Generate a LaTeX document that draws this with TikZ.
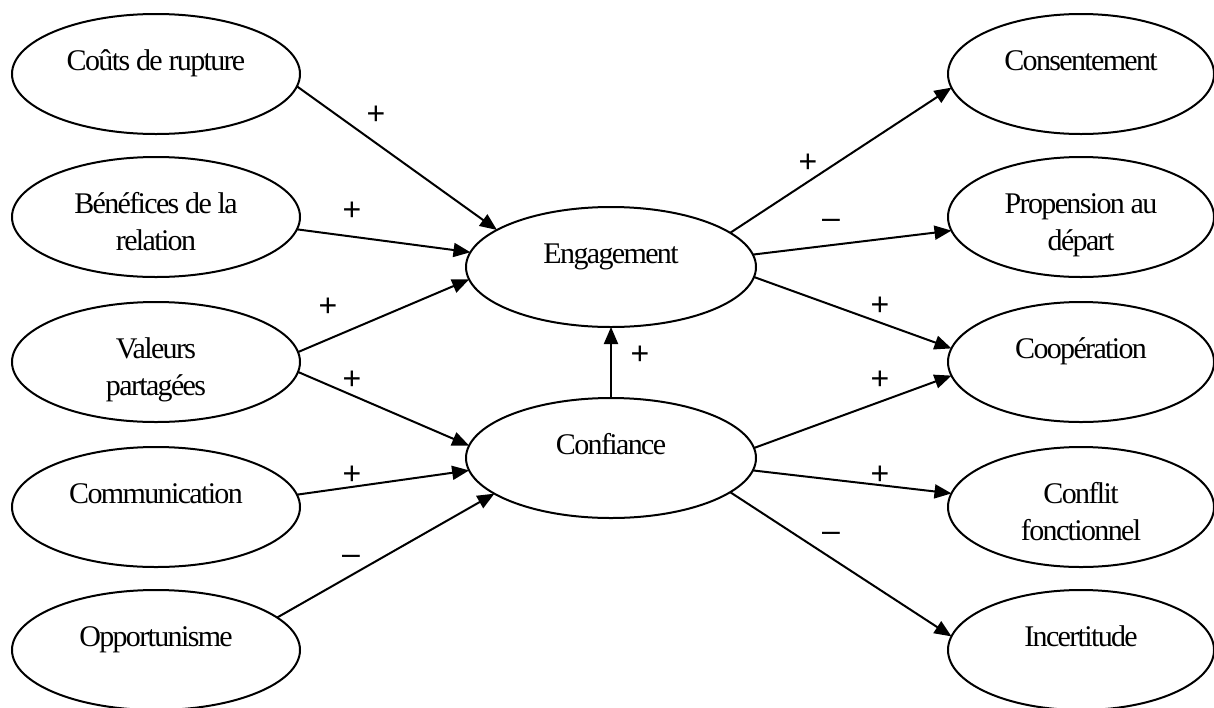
\documentclass[tikz,border=0pt]{standalone}
\usepackage{fontspec}
\setmainfont{Liberation Serif}[LetterSpace=-5.5]
\newfontfamily\signfont{Liberation Sans}
\usetikzlibrary{arrows.meta,shapes.geometric}
\newcommand{\txt}[1]{\raisebox{2pt}[0pt][0pt]{\begin{tabular}[t]{@{}c@{}}#1\end{tabular}}}
\tikzset{
  ell/.style={ellipse, draw, line width=1pt, inner sep=0pt, outer sep=0pt,
    font=\fontsize{15pt}{18.5pt}\selectfont},
  lft/.style={ell, minimum width=144pt, minimum height=60pt},
  mid/.style={ell, minimum width=145pt, minimum height=60pt},
  rgt/.style={ell, minimum width=133pt, minimum height=60pt},
  conn/.style={line width=1pt, -{Triangle[length=8.5pt,width=7pt]}},
  sgn/.style={font=\signfont\fontsize{16pt}{19pt}\selectfont, inner sep=0pt,
    text height=0.7em, text depth=0pt},
}
\begin{document}
\begin{tikzpicture}[x=0.5pt,y=-0.5pt]
\useasboundingbox (0,0) rectangle (1214,707);
% left column
\node[lft] (cout) at (156,74)  {\txt{Coûts de rupture}};
\node[lft] (bene) at (156,217) {\txt{Bénéfices de la\\relation}};
\node[lft] (val)  at (156,362) {\txt{Valeurs\\partagées}};
\node[lft] (comm) at (156,507) {\txt{Communication}};
\node[lft] (opp)  at (156,650) {\txt{Opportunisme}};
% centre
\node[mid] (eng)  at (611,267) {\txt{Engagement}};
\node[mid] (conf) at (611,458) {\txt{Confiance}};
% right column
\node[rgt] (cons)  at (1081,74)  {\txt{Consentement}};
\node[rgt] (prop)  at (1081,217) {\txt{Propension au\\départ}};
\node[rgt] (coop)  at (1081,362) {\txt{Coopération}};
\node[rgt] (confl) at (1081,507) {\txt{Conflit\\fonctionnel}};
\node[rgt] (inc)   at (1081,650) {\txt{Incertitude}};
% connectors
\draw[conn] (cout.-5)   -- (eng.162);
\draw[conn] (bene.-5.5) -- (eng.174.4);
\draw[conn] (val.4.8)   -- (eng.185.2);
\draw[conn] (val.-4.8)  -- (conf.175.6);
\draw[conn] (comm.5.2)  -- (conf.185.2);
\draw[conn] (opp.15.9)  -- (conf.197.9);
\draw[conn] (conf.north) -- (eng.south);
\draw[conn] (eng.16.6)  -- (cons.186);
\draw[conn] (eng.5.1)   -- (prop.186.4);
\draw[conn] (eng.-4.3)  -- (coop.174);
\draw[conn] (conf.4.4)  -- (coop.186.4);
\draw[conn] (conf.-5.1) -- (confl.174.9);
\draw[conn] (conf.-16.6) -- (inc.174);
% signs
\node[sgn] (s1)  at (376,117) {+};
\node[sgn] (s2)  at (352,213) {+};
\node[sgn] (s3)  at (328,309) {+};
\node[sgn] (s4)  at (352,382) {+};
\node[sgn] (s5)  at (352,477) {+};
\node[sgn] (s6)  at (351,557) {–};
\node[sgn] (s7)  at (640,357) {+};
\node[sgn] (s8)  at (808,165) {+};
\node[sgn] (s9)  at (831,221) {–};
\node[sgn] (s10) at (880,308) {+};
\node[sgn] (s11) at (880,382) {+};
\node[sgn] (s12) at (880,477) {+};
\node[sgn] (s13) at (831,534) {–};
\end{tikzpicture}
\end{document}
